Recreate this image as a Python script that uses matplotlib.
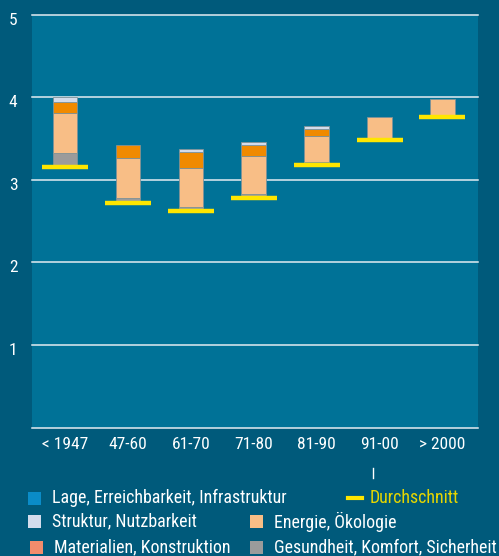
import numpy as np
import matplotlib.pyplot as plt
from matplotlib.patches import Rectangle
from matplotlib.lines import Line2D
import matplotlib.transforms as mtransforms

# -----------------------------------------------------------------------------
# Data
# -----------------------------------------------------------------------------
periods = ['< 1947', '47-60', '61-70', '71-80', '81-90', '91-00', '> 2000']

durchschnitt = [3.155, 2.72, 2.62, 2.78, 3.185, 3.485, 3.76]

# contributions stacked on top of the average, bottom to top
gesundheit = [0.17, 0.055, 0.05, 0.05, 0.03, 0.0, 0.0]
energie = [0.485, 0.485, 0.476, 0.46, 0.313, 0.275, 0.215]
materialien = [0.13, 0.165, 0.194, 0.13, 0.086, 0.0, 0.0]
struktur = [0.06, 0.0, 0.032, 0.04, 0.037, 0.0, 0.0]
lage = [0.0, 0.0, 0.0, 0.0, 0.0, 0.0, 0.0]

# -----------------------------------------------------------------------------
# Colours / fonts
# -----------------------------------------------------------------------------
FIG_BG = '#005a7b'
AX_BG = '#007297'
C_LAGE = '#0a8cc8'
C_STRUKTUR = '#d3dcec'
C_MAT_BAR = '#f08a00'
C_MAT_LEG = '#f28c6c'
C_ENERGIE = '#f8be86'
C_GESUND = '#9b9b9b'
C_AVG = '#ffe600'
C_AVG_TXT = '#e6d600'

plt.rcParams['font.family'] = ['Roboto Condensed', 'DejaVu Sans']

fig = plt.figure(figsize=(4.99, 5.56), dpi=100)
fig.patch.set_facecolor(FIG_BG)
ax = fig.add_axes([32 / 499, 1 - 427.7 / 556, 446.3 / 499, 413 / 556])
ax.set_facecolor(AX_BG)

x = np.arange(len(periods))
bar_w = 0.39

segments = [
    (gesundheit, C_GESUND),
    (energie, C_ENERGIE),
    (materialien, C_MAT_BAR),
    (struktur, C_STRUKTUR),
    (lage, C_LAGE),
]
bottom = np.array(durchschnitt, dtype=float)
for vals, col in segments:
    vals = np.array(vals)
    mask = vals > 0
    ax.bar(x[mask], vals[mask], bar_w, bottom=bottom[mask], color=col,
           edgecolor='#7f9298', linewidth=0.6, zorder=2)
    bottom = bottom + vals

# average markers
ax.hlines(durchschnitt, x - 0.365, x + 0.365, colors=C_AVG, linewidth=3.2,
          zorder=3)

# -----------------------------------------------------------------------------
# Axes styling
# -----------------------------------------------------------------------------
ax.set_xlim(-0.525, 6.57)
ax.set_ylim(0, 5)
ax.set_yticks(range(0, 6))
ax.set_yticklabels(['', '1', '2', '3', '4', '5'])
ax.set_xticks(x)
ax.set_xticklabels(periods)
for s in ax.spines.values():
    s.set_visible(False)
ax.tick_params(axis='both', length=0, colors='white', labelsize=12.5)
ax.tick_params(axis='y', pad=13.5)
ax.tick_params(axis='x', pad=7)
for lbl in ax.get_yticklabels():
    lbl.set_horizontalalignment('center')
    lbl.set_transform(lbl.get_transform() +
                      mtransforms.ScaledTranslation(0, -4 / 100, fig.dpi_scale_trans))
ax.yaxis.grid(True, color='#e4ecf2', linewidth=1.1, zorder=1)
ax.set_axisbelow(True)
for gl in ax.get_ygridlines():
    gl.set_clip_on(False)

# small marker below the 91-00 label
fig.add_artist(Line2D([372.5 / 499, 372.5 / 499], [1 - 468 / 556, 1 - 477.5 / 556],
                      color='white', linewidth=1.0))

# -----------------------------------------------------------------------------
# Legend (drawn by hand, two columns)
# -----------------------------------------------------------------------------
leg_labels = ['Lage, Erreichbarkeit, Infrastruktur', 'Struktur, Nutzbarkeit',
              'Materialien, Konstruktion', 'Energie, Ökologie',
              'Gesundheit, Komfort, Sicherheit']
leg_colors = [C_LAGE, C_STRUKTUR, C_MAT_LEG, C_ENERGIE, C_GESUND]
leg_xy = [(28, 498), (28, 521.5), (29.5, 547), (250, 521.5), (250, 547)]

W, H = 499.0, 556.0
sq = 13
for lab, col, (px, py) in zip(leg_labels, leg_colors, leg_xy):
    fig.add_artist(Rectangle((px / W, 1 - (py + sq / 2) / H), sq / W, sq / H,
                             transform=fig.transFigure, facecolor=col,
                             edgecolor='none'))
    fig.text((px + 24) / W, 1 - py / H, lab, color='white', fontsize=12.9,
             va='center', ha='left')

fig.add_artist(Line2D([347.5 / W, 362 / W], [1 - 497.7 / H, 1 - 497.7 / H],
                      color=C_AVG, linewidth=3))
fig.text(370 / W, 1 - 497.7 / H, 'Durchschnitt', color=C_AVG_TXT,
         fontsize=12.9, va='center', ha='left')

fig.savefig('out.png', dpi=100, facecolor=FIG_BG)
